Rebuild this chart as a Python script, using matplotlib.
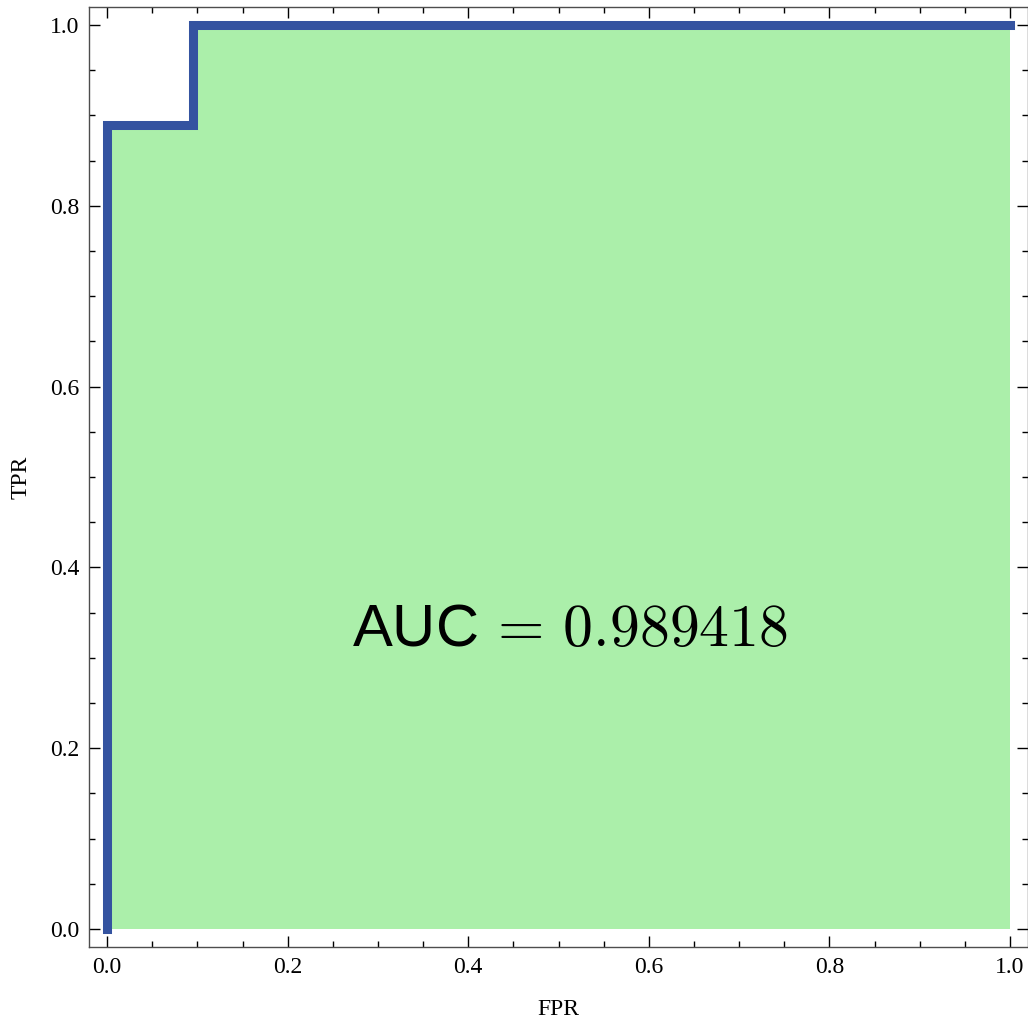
import matplotlib
matplotlib.use("Agg")
import matplotlib.pyplot as plt
from matplotlib.ticker import MultipleLocator

# ROC step curve (FPR, TPR)
fpr = [0.0, 0.0, 2 / 21, 2 / 21, 1.0]
tpr = [0.0, 8 / 9, 8 / 9, 1.0, 1.0]
auc_label = "0.989418"

plt.rcParams["mathtext.fontset"] = "cm"

fig = plt.figure(figsize=(10.28, 10.22), dpi=100)
ax = fig.add_axes([0.0866, 0.0734, 0.9134, 0.9198])

ax.fill_between(fpr, tpr, 0, color="#abefaa", lw=0, zorder=1)
ax.plot(fpr, tpr, color="#3453a0", lw=6.5, solid_capstyle="projecting",
        solid_joinstyle="miter", zorder=2)

ax.text(0.513, 0.330, "AUC" + r"$\,=\,$" + "$" + auc_label + "$",
        fontsize=43, family="Liberation Sans", ha="center", va="center", zorder=3)

ax.set_xlim(-0.02, 1.02)
ax.set_ylim(-0.02, 1.02)
ax.xaxis.set_major_locator(MultipleLocator(0.2))
ax.xaxis.set_minor_locator(MultipleLocator(0.05))
ax.yaxis.set_major_locator(MultipleLocator(0.2))
ax.yaxis.set_minor_locator(MultipleLocator(0.05))
ax.xaxis.set_major_formatter(lambda v, p: f"{v:.1f}")
ax.yaxis.set_major_formatter(lambda v, p: f"{v:.1f}")

ax.tick_params(which="both", direction="in", top=True, right=True,
               color="black", width=1)
ax.tick_params(which="major", length=8, labelsize=17, pad=7)
ax.tick_params(which="minor", length=4.5)
for lab in ax.get_xticklabels() + ax.get_yticklabels():
    lab.set_family("Liberation Serif")
for sp in ax.spines.values():
    sp.set_color("0.3")
    sp.set_linewidth(1)

ax.set_xlabel("FPR", family="Liberation Serif", fontsize=17, labelpad=15)
ax.set_ylabel("TPR", family="Liberation Serif", fontsize=17, labelpad=13)

fig.savefig("out.png", dpi=100)
